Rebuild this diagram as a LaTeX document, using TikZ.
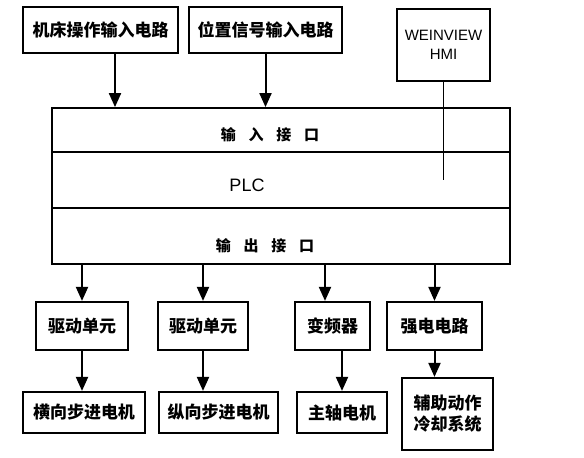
\documentclass[tikz,border=0pt]{standalone}
\usepackage{fontspec}
\setmainfont{Liberation Sans}
\newfontfamily\cjk{Noto Sans CJK SC}
\usetikzlibrary{arrows.meta}
\tikzset{
    BX1/.style ={rectangle, draw, line width=2.2pt, align=center, font=\cjk\bfseries\fontsize{17}{21}\selectfont},
    BX2/.style ={rectangle, draw, line width=1.8pt, minimum width=458pt},
    LB1/.style ={font=\cjk\bfseries\fontsize{15}{18}\selectfont},
    LB2/.style ={font=\fontsize{18}{20}\selectfont},
    AR/.style ={line width=2pt, -{Triangle[width=12pt,length=14pt]}}}

\begin{document}
\begin{tikzpicture}[x=1pt,y=-1pt]
        \useasboundingbox (0,0) rectangle (584,458);
        \node[BX1, minimum width=155pt, minimum height=46pt] (1) at (100.5,30) {机床操作输入电路};
        \node[BX1, minimum width=153pt, minimum height=46pt] (2) at (265.5,30) {位置信号输入电路};
        \node[BX1, line width=1.6pt, minimum width=93pt, minimum height=72pt, font=\fontsize{15}{19}\selectfont] (3) at (443.5,45) {WEINVIEW\\HMI};
        \node[BX2, minimum height=44pt, label={[LB1,xshift=-11pt,yshift=-5pt]center:输\hspace{0.85em}入\hspace{0.85em}接\hspace{0.85em}口}] (4) at (281,130) {};
        \node[BX2, minimum height=56pt, label={[LB2,xshift=-34pt,yshift=-5pt]center:PLC}] (5) at (281,180) {};
        \node[BX2, minimum height=56pt, label={[LB1,xshift=-16pt,yshift=-10pt]center:输\hspace{0.85em}出\hspace{0.85em}接\hspace{0.85em}口}] (6) at (281,236) {};
        \node[BX1, minimum width=92pt, minimum height=48pt] (7) at (82,326) {驱动单元};
        \node[BX1, minimum width=90pt, minimum height=48pt] (8) at (203,326) {驱动单元};
        \node[BX1, minimum width=75pt, minimum height=48pt] (9) at (332.5,326) {变频器};
        \node[BX1, minimum width=95pt, minimum height=48pt] (10) at (434.5,326) {强电电路};
        \node[BX1, minimum width=122pt, minimum height=41pt] (11) at (84,412.5) {横向步进电机};
        \node[BX1, minimum width=119pt, minimum height=41pt] (12) at (218.5,412.5) {纵向步进电机};
        \node[BX1, minimum width=90pt, minimum height=41pt] (13) at (342,412.5) {主轴电机};
        \node[BX1, minimum width=91pt, minimum height=72pt] (14) at (447.5,414) {辅助动作\\冷却系统};
        \coordinate (h) at (443.5,180);
        \draw[line width=1.8pt] (3) -- (h);
        \draw[AR] ([xshift=14.5pt]1.south) -- ([xshift=14.5pt]1.south |- 4.north);
        \draw[AR] (2) -- (2 |- 4.north);
        \draw[AR] (7 |- 6.south) -- (7);
        \draw[AR] (8 |- 6.south) -- (8);
        \draw[AR] ([xshift=-7.5pt]9.north |- 6.south) -- ([xshift=-7.5pt]9.north);
        \draw[AR] (10 |- 6.south) -- (10);
        \draw[AR] (7) -- (7 |- 11.north);
        \draw[AR] (8) -- (8 |- 12.north);
        \draw[AR] (13 |- 9.south) -- (13);
        \draw[AR] (10) -- (10 |- 14.north);
    \end{tikzpicture}
\end{document}
